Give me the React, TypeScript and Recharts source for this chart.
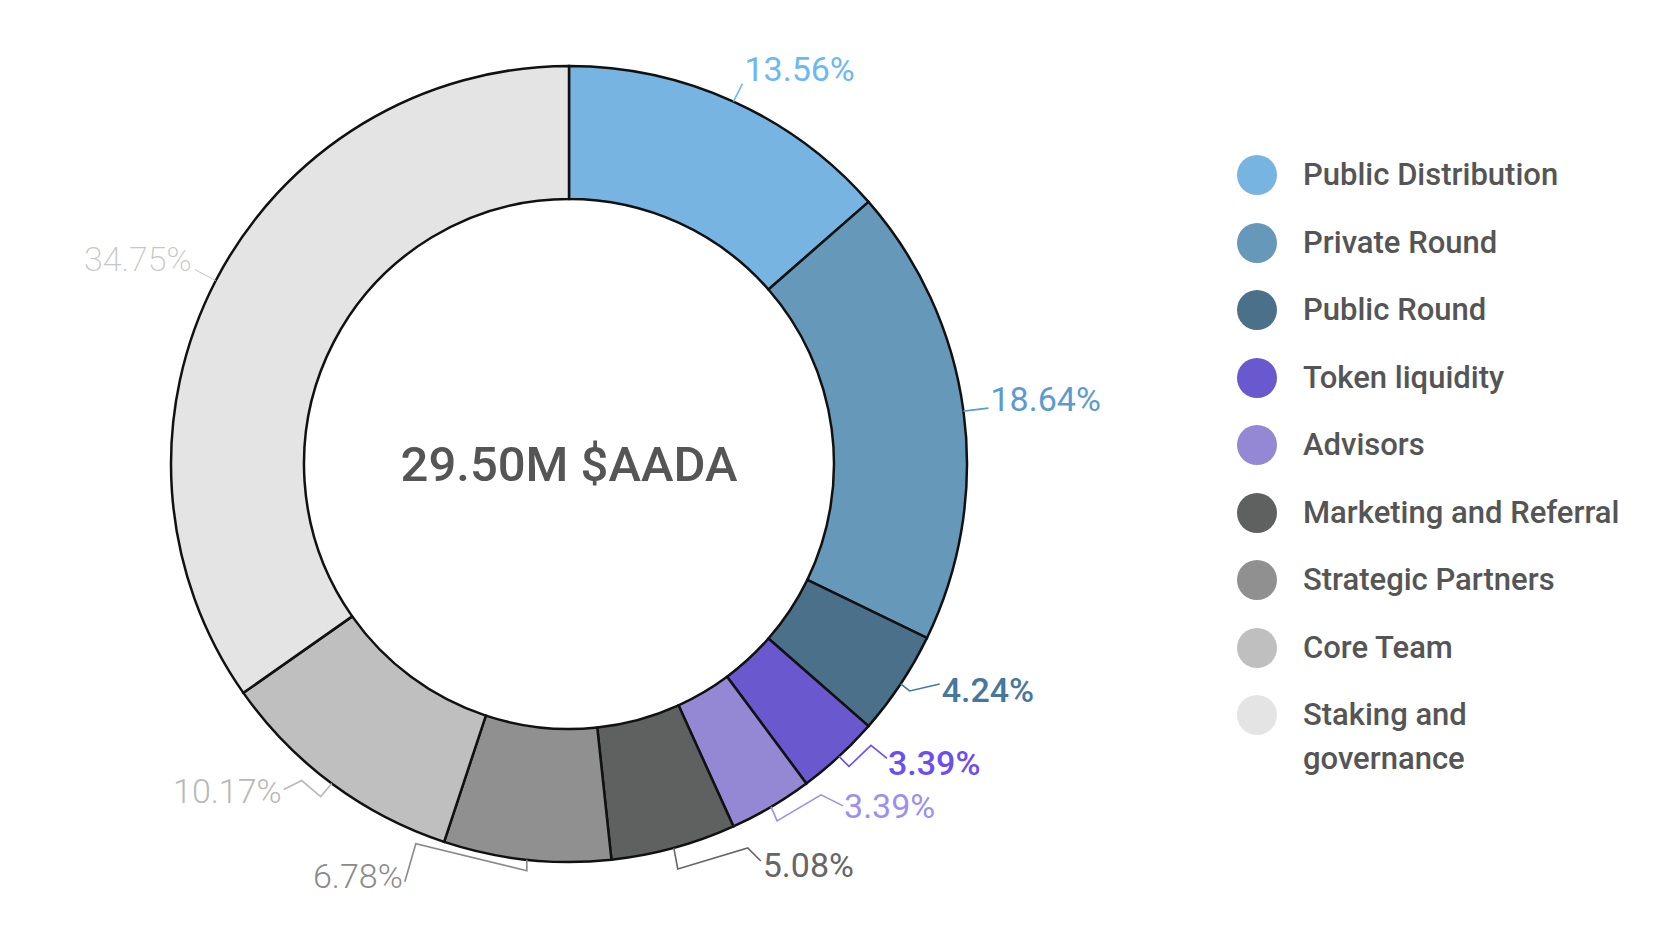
import { Cell, Legend, Pie, PieChart } from "recharts";

const categories = [
  "Public Distribution",
  "Private Round",
  "Public Round",
  "Token liquidity",
  "Advisors",
  "Marketing and Referral",
  "Strategic Partners",
  "Core Team",
  "Staking and governance",
];
const shares = [13.56, 18.64, 4.24, 3.39, 3.39, 5.08, 6.78, 10.17, 34.75];
const sliceColors = [
  "#78b4e1",
  "#6698ba",
  "#4a7189",
  "#6a58cf",
  "#9488d4",
  "#5f6060",
  "#909090",
  "#bfbfbf",
  "#e4e4e4",
];
const labelColors = [
  "#6cb8f0",
  "#5b9bd0",
  "#4677a0",
  "#6b4ef2",
  "#9d8ff2",
  "#666666",
  "#8a8a8a",
  "#b8b8b8",
  "#c6c6c6",
];
const centerText = "29.50M $AADA";

const chartData = categories.map((name, i) => ({ name, value: shares[i] }));

// leader line shapes + text spot, as offsets from the slice's outer edge at mid angle
const leaders: any[] = [
  { path: [[0, 0], [9, -18]], text: [11, -33], anchor: "start", weight: 400 },
  { path: [[0, 0], [25, -3]], text: [27, -12], anchor: "start", weight: 400 },
  { path: [[0, 0], [9, 7], [39, 0]], text: [41, 6], anchor: "start", weight: 500 },
  { path: [[0, 0], [10, 10], [32, -11], [48, 2]], text: [49, 7], anchor: "start", weight: 500 },
  { path: [[0, 0], [6, 14], [50, -12], [72, -1]], text: [73, -1], anchor: "start", weight: 400 },
  { path: [[0, 0], [4, 21], [74, 0], [87, 13]], text: [89, 17], anchor: "start", weight: 400 },
  { path: [[0, 0], [0, 11], [-111, -16], [-122, 22]], text: [-124, 16], anchor: "end", weight: 300 },
  { path: [[0, 0], [-11, 13], [-30, -3], [-48, 6]], text: [-50, 7], anchor: "end", weight: 300 },
  { path: [[0, 0], [-21, -11]], text: [-24, -22], anchor: "end", weight: 200 },
];

const RADIAN = Math.PI / 180;

const renderLabel = (props: any) => {
  const { cx, cy, midAngle, outerRadius, index, value } = props;
  const ex = cx + outerRadius * Math.cos(-midAngle * RADIAN);
  const ey = cy + outerRadius * Math.sin(-midAngle * RADIAN);
  const l = leaders[index];
  const d = l.path
    .map(([x, y]: number[], i: number) => `${i ? "L" : "M"}${ex + x},${ey + y}`)
    .join(" ");
  return (
    <g key={`lbl-${index}`}>
      {index === 0 && (
        <text
          x={cx}
          y={cy}
          textAnchor="middle"
          dominantBaseline="central"
          fill="#555"
          fontSize={49}
          fontWeight={500}
        >
          {centerText}
        </text>
      )}
      <path d={d} stroke={labelColors[index]} strokeWidth={index === 8 ? 1 : 1.6} fill="none" />
      <text
        x={ex + l.text[0]}
        y={ey + l.text[1]}
        textAnchor={l.anchor}
        dominantBaseline="central"
        fill={labelColors[index]}
        fontSize={34}
        fontWeight={l.weight}
      >
        {Number(value).toFixed(2)}%
      </text>
    </g>
  );
};

const renderLegend = (props: any) => {
  const items = [...(props.payload || [])].sort(
    (a: any, b: any) => categories.indexOf(a.value) - categories.indexOf(b.value)
  );
  return (
    <div>
      {items.map((entry: any, i: number) => {
        const idx = categories.indexOf(entry.value);
        return (
          <div
            key={`leg-${i}`}
            style={{ display: "flex", alignItems: "flex-start", marginBottom: 23.5 }}
          >
            <span
              style={{
                width: 40,
                height: 40,
                borderRadius: "50%",
                background: sliceColors[idx],
                marginTop: 2,
                marginRight: 26,
                flexShrink: 0,
              }}
            />
            <span
              style={{
                fontSize: 31,
                lineHeight: "44px",
                color: "#555",
                fontWeight: 500,
                width: idx === categories.length - 1 ? 200 : "auto",
                whiteSpace: idx === categories.length - 1 ? "normal" : "nowrap",
              }}
            >
              {entry.value}
            </span>
          </div>
        );
      })}
    </div>
  );
};

const App = () => {
  return (
    <div style={{ width: 1646, height: 925, background: "#fff", fontFamily: "Roboto, sans-serif" }}>
      <PieChart width={1646} height={925} margin={{ top: 0, right: 0, bottom: 0, left: 0 }}>
        <Pie
          data={chartData}
          dataKey="value"
          nameKey="name"
          cx={561}
          cy={456}
          innerRadius={265}
          outerRadius={398}
          startAngle={90}
          endAngle={-270}
          stroke="#111"
          strokeWidth={2.5}
          label={renderLabel}
          labelLine={false}
          isAnimationActive={false}
        >
          {chartData.map((d, i) => (
            <Cell key={d.name} fill={sliceColors[i]} />
          ))}
        </Pie>
        <Legend
          layout="vertical"
          align="center"
          verticalAlign="middle"
          content={renderLegend}
          wrapperStyle={{ left: 1229, top: 145, width: 420 }}
        />
      </PieChart>
    </div>
  );
};

export default App;
